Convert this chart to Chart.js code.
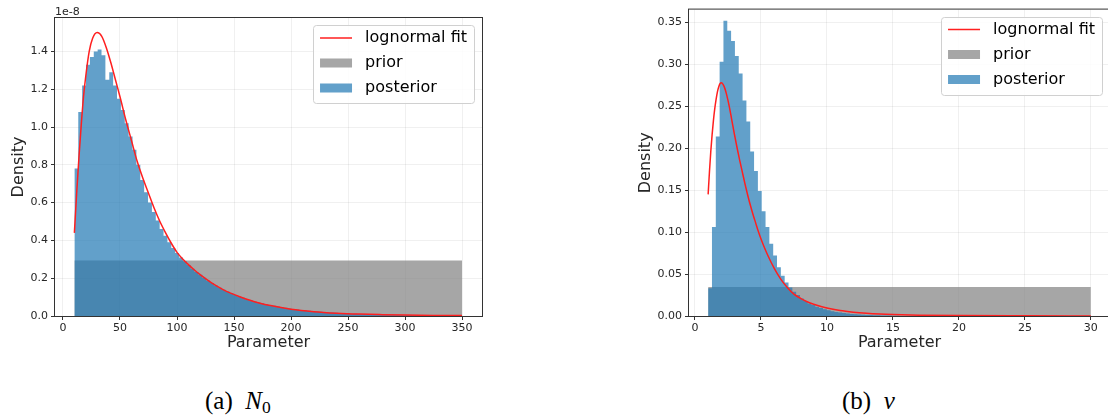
<!DOCTYPE html>
<html>
<head>
<meta charset="utf-8">
<script src="https://cdn.jsdelivr.net/npm/chart.js@4.4.1/dist/chart.umd.min.js"></script>
<style>
body{margin:0;width:1108px;height:419px;overflow:hidden;background:#fff;position:relative;font-family:"DejaVu Sans",sans-serif;}
canvas{position:absolute;top:0;}
#leftChart{left:0;}
#rightChart{left:620px;}
.offset{position:absolute;left:55px;top:5px;font-size:11px;line-height:13px;color:#262626;}
.caption{position:absolute;top:386px;font-family:"Liberation Serif",serif;font-size:25px;line-height:30px;color:#000;white-space:nowrap;}
.caption sub{font-size:0.7em;vertical-align:-0.25em;line-height:0;}
</style>
</head>
<body>
<canvas id="leftChart" width="500" height="355"></canvas>
<canvas id="rightChart" width="492" height="355"></canvas>
<div class="offset">1e-8</div>
<div class="caption" style="left:205px">(a)&nbsp;&nbsp;<i>N</i><sub>0</sub></div>
<div class="caption" style="left:842px">(b)&nbsp;&nbsp;<i>ν</i></div>
<script>
// legend names (same for both panels)
let legendNames = ['lognormal fit', 'prior', 'posterior'];

// left panel: N0 (density in units of 1e-8)
let n0BinStart = 10;
let n0BinWidth = 3.4;
let n0Posterior = [
	0.78, 1.08, 1.22, 1.33, 1.37, 1.40, 1.41, 1.38, 1.25, 1.29,
	1.22, 1.15, 1.09, 1.02, 0.95, 0.88, 0.80, 0.72, 0.655, 0.60,
	0.55, 0.505, 0.46, 0.425, 0.39, 0.36, 0.333, 0.31, 0.29, 0.27,
	0.25, 0.233, 0.218, 0.203, 0.188, 0.175, 0.161, 0.149, 0.139, 0.129,
	0.12, 0.111, 0.103, 0.096, 0.089, 0.082, 0.077, 0.072, 0.067, 0.062,
	0.058, 0.054, 0.05, 0.046, 0.043, 0.04, 0.037, 0.035, 0.032, 0.03,
	0.028, 0.026, 0.024, 0.022, 0.021, 0.019, 0.018, 0.017, 0.015, 0.014,
	0.013, 0.012, 0.0115, 0.011, 0.01, 0.0095, 0.009, 0.0085, 0.008, 0.0075,
	0.007, 0.0066, 0.0062, 0.0058, 0.0055, 0.0052, 0.0049, 0.0046, 0.0044, 0.0041,
	0.0039, 0.0037, 0.0035, 0.0033, 0.0031, 0.003, 0.0028, 0.0027, 0.0025, 0.0024
];
let n0PriorX = [10, 350];
let n0PriorY = [0.294, 0.294];
let n0FitX = [10, 12, 14, 16, 18, 20, 23, 26, 30, 34, 38, 42, 46, 50, 55, 60, 65, 70, 75, 80, 85, 90, 95, 100, 105, 110, 115, 120, 125, 130, 135, 140, 147, 155, 164, 172, 182, 200, 220, 240, 260, 280, 300, 325, 350];
let n0FitY = [0.44, 0.65, 0.84, 1.01, 1.16, 1.27, 1.40, 1.47, 1.50, 1.48, 1.42, 1.34, 1.25, 1.16, 1.04, 0.93, 0.82, 0.73, 0.65, 0.57, 0.50, 0.44, 0.385, 0.337, 0.302, 0.272, 0.245, 0.220, 0.198, 0.177, 0.158, 0.141, 0.121, 0.102, 0.083, 0.069, 0.055, 0.036, 0.023, 0.015, 0.01, 0.007, 0.0048, 0.0032, 0.0022];
let n0XTicks = [0, 50, 100, 150, 200, 250, 300, 350];
let n0YTicks = [0, 0.2, 0.4, 0.6, 0.8, 1.0, 1.2, 1.4];

// right panel: nu
let nuBinStart = 1;
let nuBinWidth = 0.29;
let nuPosterior = [
	0.033, 0.106, 0.214, 0.303, 0.352, 0.340, 0.328, 0.310, 0.289, 0.257,
	0.232, 0.196, 0.173, 0.149, 0.125, 0.106, 0.086, 0.072, 0.058, 0.048,
	0.040, 0.034, 0.029, 0.025, 0.021, 0.018, 0.015, 0.013, 0.011, 0.0095,
	0.008, 0.0068, 0.0058, 0.0049, 0.0041, 0.0035, 0.003, 0.0025, 0.0021, 0.0018,
	0.0015, 0.0013, 0.0011, 0.0009, 0.0008, 0.0007, 0.0006, 0.0005, 0.0004, 0.0003
];
let nuPriorX = [1, 30];
let nuPriorY = [0.0345, 0.0345];
let nuFitX = [1.0, 1.1, 1.2, 1.3, 1.4, 1.5, 1.6, 1.7, 1.8, 1.9, 2.0, 2.2, 2.4, 2.6, 2.8, 3.0, 3.2, 3.4, 3.6, 3.8, 4.0, 4.2, 4.4, 4.6, 4.8, 5.0, 5.2, 5.5, 6.0, 6.5, 7.0, 7.5, 8.0, 8.5, 9, 10, 11, 12, 13, 14, 15, 17, 20, 25, 30];
let nuFitY = [0.145, 0.172, 0.196, 0.216, 0.233, 0.247, 0.258, 0.267, 0.273, 0.277, 0.278, 0.274, 0.264, 0.25, 0.233, 0.216, 0.2, 0.185, 0.171, 0.157, 0.144, 0.132, 0.121, 0.111, 0.101, 0.092, 0.084, 0.073, 0.057, 0.044, 0.034, 0.026, 0.021, 0.017, 0.014, 0.0095, 0.0065, 0.0046, 0.0033, 0.0024, 0.0018, 0.001, 0.0005, 0.0002, 0.0001];
let nuXTicks = [0, 5, 10, 15, 20, 25, 30];
let nuYTicks = [0, 0.05, 0.10, 0.15, 0.20, 0.25, 0.30, 0.35];

// colours
let fitColor = '#ff1f1f';
let priorColor = 'rgba(128,128,128,0.7)';
let postColor = 'rgba(31,119,180,0.7)';
let textColor = '#262626';
let gridColor = 'rgba(0,0,0,0.06)';

Chart.defaults.font.family = '"DejaVu Sans", sans-serif';
Chart.defaults.color = textColor;

let tickFont = {size: 11};
let titleFont = {size: 16};
let legendFont = {size: 16};

// helpers
function histPoints(start, width, values){
	let pts = values.map((v, i) => ({x: start + i * width, y: v}));
	pts.push({x: start + values.length * width, y: values[values.length - 1]});
	return pts;
}

function zipPoints(xs, ys){
	return xs.map((x, i) => ({x: x, y: ys[i]}));
}

// draws the full axes box like matplotlib
let framePlugin = {
	id: 'axesFrame',
	afterDatasetsDraw(chart){
		let ctx = chart.ctx;
		let a = chart.chartArea;
		ctx.save();
		ctx.strokeStyle = '#333';
		ctx.lineWidth = 1;
		ctx.strokeRect(a.left - 0.5, a.top - 0.5, a.right - a.left + 1, a.bottom - a.top + 1);
		ctx.restore();
	}
};

// moves the legend to the top right corner of the plot and gives it a box
let legendBoxPlugin = {
	id: 'legendBox',
	afterLayout(chart){
		let lg = chart.legend;
		let a = chart.chartArea;
		let lab = lg.options.labels;
		let pad = lab.padding;
		let ctx = chart.ctx;
		ctx.save();
		ctx.font = legendFont.size + 'px "DejaVu Sans"';
		let textW = Math.max(...lg.legendItems.map(it => ctx.measureText(it.text).width));
		ctx.restore();
		let itemW = lab.pointStyleWidth + legendFont.size / 2 + textW;
		let right = a.right - 8;
		let left = right - itemW - 14;
		lg.left = left + 7 - pad;
		lg.right = lg.left + lg.width;
		lg.top = a.top + 12 - pad;
		lg.bottom = lg.top + lg.height;
		lg._box = {x: left, y: a.top + 7, w: right - left, h: 78};
		if(!lg._wrapped){
			let orig = lg.draw;
			lg.draw = function(){
				let b = this._box;
				let c = this.chart.ctx;
				c.save();
				c.beginPath();
				c.roundRect(Math.round(b.x) + 0.5, Math.round(b.y) + 0.5, Math.round(b.w), Math.round(b.h), 3);
				c.fillStyle = 'rgba(255,255,255,0.85)';
				c.fill();
				c.strokeStyle = '#d0d0d0';
				c.lineWidth = 1;
				c.stroke();
				c.restore();
				orig.apply(this, arguments);
			};
			lg._wrapped = true;
		}
	}
};

function legendItems(){
	return [
		{text: ' ' + legendNames[0], fillStyle: fitColor, strokeStyle: fitColor, lineWidth: 1.5, pointStyle: 'line', datasetIndex: 0, hidden: false},
		{text: ' ' + legendNames[1], fillStyle: priorColor, strokeStyle: priorColor, lineWidth: 0, pointStyle: 'rect', datasetIndex: 2, hidden: false},
		{text: ' ' + legendNames[2], fillStyle: postColor, strokeStyle: postColor, lineWidth: 0, pointStyle: 'rect', datasetIndex: 1, hidden: false}
	];
}

function makeChart(id, cfg){
	let ctx = document.getElementById(id).getContext('2d');
	return new Chart(ctx, {
		type: 'line',
		data: {
			datasets: [
				{
					label: legendNames[0],
					data: zipPoints(cfg.fitX, cfg.fitY),
					borderColor: fitColor,
					borderWidth: 1.5,
					pointRadius: 0,
					cubicInterpolationMode: 'monotone',
					fill: false
				},
				{
					label: legendNames[2],
					data: histPoints(cfg.binStart, cfg.binWidth, cfg.posterior),
					stepped: 'before',
					borderWidth: 0,
					backgroundColor: postColor,
					pointRadius: 0,
					fill: 'origin'
				},
				{
					label: legendNames[1],
					data: zipPoints(cfg.priorX, cfg.priorY),
					stepped: 'before',
					borderWidth: 0,
					backgroundColor: priorColor,
					pointRadius: 0,
					fill: 'origin'
				}
			]
		},
		options: {
			responsive: false,
			animation: false,
			devicePixelRatio: 1,
			layout: {padding: cfg.padding},
			plugins: {
				tooltip: {enabled: false},
				legend: {
					position: 'chartArea',
					align: 'start',
					labels: {
						font: legendFont,
						color: textColor,
						usePointStyle: true,
						pointStyleWidth: 32,
						boxHeight: 9,
						padding: 9,
						generateLabels: legendItems
					}
				}
			},
			scales: {
				x: {
					type: 'linear',
					min: cfg.xMin,
					max: cfg.xMax,
					afterBuildTicks: s => { s.ticks = cfg.xTicks.map(v => ({value: v})); },
					afterFit: s => { s.height = 39; },
					ticks: {font: tickFont, color: textColor, padding: 2, maxRotation: 0, autoSkip: false, callback: v => String(v)},
					grid: {color: gridColor, tickColor: '#333', tickLength: 4},
					border: {display: false},
					title: {display: true, text: 'Parameter', font: titleFont, color: textColor, padding: {top: 0, bottom: 3}}
				},
				y: {
					type: 'linear',
					min: 0,
					max: cfg.yMax,
					afterBuildTicks: s => { s.ticks = cfg.yTicks.map(v => ({value: v})); },
					afterFit: s => { s.width = cfg.yWidth; },
					ticks: {font: tickFont, color: textColor, padding: 3, autoSkip: false, callback: v => v.toFixed(cfg.decimals)},
					grid: {color: gridColor, tickColor: '#333', tickLength: 4},
					border: {display: false},
					title: {display: true, text: 'Density', font: titleFont, color: textColor, padding: {top: cfg.titlePad, bottom: 0}}
				}
			}
		},
		plugins: [framePlugin, legendBoxPlugin]
	});
}

makeChart('leftChart', {
	fitX: n0FitX, fitY: n0FitY,
	binStart: n0BinStart, binWidth: n0BinWidth, posterior: n0Posterior,
	priorX: n0PriorX, priorY: n0PriorY,
	xTicks: n0XTicks, yTicks: n0YTicks,
	xMin: -7, xMax: 367.5, yMax: 1.577,
	decimals: 1, yWidth: 55, titlePad: 9,
	padding: {top: 18, right: 18, bottom: 0, left: 0}
});

makeChart('rightChart', {
	fitX: nuFitX, fitY: nuFitY,
	binStart: nuBinStart, binWidth: nuBinWidth, posterior: nuPosterior,
	priorX: nuPriorX, priorY: nuPriorY,
	xTicks: nuXTicks, yTicks: nuYTicks,
	xMin: -0.45, xMax: 31.45, yMax: 0.3653,
	decimals: 2, yWidth: 69, titlePad: 16,
	padding: {top: 7, right: 2, bottom: 0, left: 0}
});
</script>
</body>
</html>
